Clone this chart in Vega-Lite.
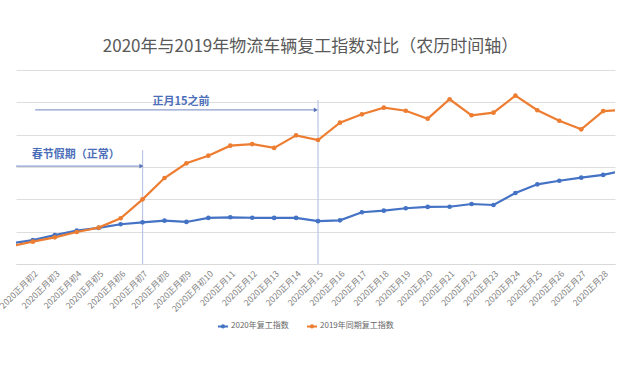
{
  "$schema": "https://vega.github.io/schema/vega-lite/v6.json",
  "autosize": {"type": "none"},
  "width": 599,
  "height": 194,
  "padding": {"left": 16, "top": 70, "right": 26, "bottom": 103},
  "background": "white",
  "config": {"view": {"stroke": null}, "font": "Noto Sans CJK SC"},
  "title": {"text": "2020年与2019年物流车辆复工指数对比（农历时间轴）", "font": "Noto Sans CJK SC", "fontSize": 17, "fontWeight": "normal", "color": "#595959", "anchor": "middle", "offset": 14, "dx": -5},
  "datasets": {
    "series": [
      {"day": 1, "series": "2020年复工指数", "value": 12.7},
      {"day": 2, "series": "2020年复工指数", "value": 14.8},
      {"day": 3, "series": "2020年复工指数", "value": 17.9},
      {"day": 4, "series": "2020年复工指数", "value": 20.6},
      {"day": 5, "series": "2020年复工指数", "value": 22.3},
      {"day": 6, "series": "2020年复工指数", "value": 24.6},
      {"day": 7, "series": "2020年复工指数", "value": 25.8},
      {"day": 8, "series": "2020年复工指数", "value": 26.8},
      {"day": 9, "series": "2020年复工指数", "value": 26.0},
      {"day": 10, "series": "2020年复工指数", "value": 28.5},
      {"day": 11, "series": "2020年复工指数", "value": 28.9},
      {"day": 12, "series": "2020年复工指数", "value": 28.6},
      {"day": 13, "series": "2020年复工指数", "value": 28.5},
      {"day": 14, "series": "2020年复工指数", "value": 28.5},
      {"day": 15, "series": "2020年复工指数", "value": 26.5},
      {"day": 16, "series": "2020年复工指数", "value": 27.0},
      {"day": 17, "series": "2020年复工指数", "value": 32.0},
      {"day": 18, "series": "2020年复工指数", "value": 33.0},
      {"day": 19, "series": "2020年复工指数", "value": 34.5},
      {"day": 20, "series": "2020年复工指数", "value": 35.3},
      {"day": 21, "series": "2020年复工指数", "value": 35.4},
      {"day": 22, "series": "2020年复工指数", "value": 37.1},
      {"day": 23, "series": "2020年复工指数", "value": 36.5},
      {"day": 24, "series": "2020年复工指数", "value": 43.9},
      {"day": 25, "series": "2020年复工指数", "value": 49.3},
      {"day": 26, "series": "2020年复工指数", "value": 51.5},
      {"day": 27, "series": "2020年复工指数", "value": 53.4},
      {"day": 28, "series": "2020年复工指数", "value": 55.1},
      {"day": 29, "series": "2020年复工指数", "value": 57.9},
      {"day": 1, "series": "2019年同期复工指数", "value": 11.1},
      {"day": 2, "series": "2019年同期复工指数", "value": 13.8},
      {"day": 3, "series": "2019年同期复工指数", "value": 16.5},
      {"day": 4, "series": "2019年同期复工指数", "value": 19.8},
      {"day": 5, "series": "2019年同期复工指数", "value": 22.5},
      {"day": 6, "series": "2019年同期复工指数", "value": 28.3},
      {"day": 7, "series": "2019年同期复工指数", "value": 40.0},
      {"day": 8, "series": "2019年同期复工指数", "value": 53.2},
      {"day": 9, "series": "2019年同期复工指数", "value": 62.3},
      {"day": 10, "series": "2019年同期复工指数", "value": 67.0},
      {"day": 11, "series": "2019年同期复工指数", "value": 73.2},
      {"day": 12, "series": "2019年同期复工指数", "value": 74.2},
      {"day": 13, "series": "2019年同期复工指数", "value": 71.8},
      {"day": 14, "series": "2019年同期复工指数", "value": 79.6},
      {"day": 15, "series": "2019年同期复工指数", "value": 76.7},
      {"day": 16, "series": "2019年同期复工指数", "value": 87.4},
      {"day": 17, "series": "2019年同期复工指数", "value": 92.6},
      {"day": 18, "series": "2019年同期复工指数", "value": 96.7},
      {"day": 19, "series": "2019年同期复工指数", "value": 94.8},
      {"day": 20, "series": "2019年同期复工指数", "value": 89.9},
      {"day": 21, "series": "2019年同期复工指数", "value": 101.9},
      {"day": 22, "series": "2019年同期复工指数", "value": 92.0},
      {"day": 23, "series": "2019年同期复工指数", "value": 93.6},
      {"day": 24, "series": "2019年同期复工指数", "value": 104.1},
      {"day": 25, "series": "2019年同期复工指数", "value": 95.1},
      {"day": 26, "series": "2019年同期复工指数", "value": 88.6},
      {"day": 27, "series": "2019年同期复工指数", "value": 83.3},
      {"day": 28, "series": "2019年同期复工指数", "value": 94.6},
      {"day": 29, "series": "2019年同期复工指数", "value": 95.3}
    ],
    "rules": [
      {"day": 7, "value": 70.5, "value2": 0},
      {"day": 15, "value": 101.4, "value2": 0}
    ],
    "arrows": [
      {"day": 1, "day2": 6.95, "value": 60.6},
      {"day": 2.1, "day2": 14.9, "value": 95.3}
    ],
    "heads": [
      {"day": 6.95, "value": 60.6},
      {"day": 14.9, "value": 95.3}
    ],
    "notes": [
      {"day": 1.95, "value": 67.4, "label": "春节假期（正常）"},
      {"day": 7.45, "value": 100.4, "label": "正月15之前"}
    ]
  },
  "encoding": {
    "x": {"field": "day", "type": "quantitative", "title": null,
      "scale": {"domain": [1.23, 28.54], "nice": false, "zero": false},
      "axis": {"values": [2,3,4,5,6,7,8,9,10,11,12,13,14,15,16,17,18,19,20,21,22,23,24,25,26,27,28],
        "tickCount": 30,
        "labelExpr": "datum.value <= 10 ? '2020正月初' + datum.value : '2020正月' + datum.value",
        "labelAngle": -45, "labelFont": "Noto Sans CJK SC", "labelFontSize": 8.5, "labelColor": "#808080",
        "labelOverlap": false, "labelFlush": false, "labelPadding": 5, "ticks": false, "grid": false,
        "domain": true, "domainColor": "#d9d9d9", "domainWidth": 1.2}},
    "y": {"field": "value", "type": "quantitative", "title": null,
      "scale": {"domain": [0, 120], "nice": false},
      "axis": {"values": [0, 20, 40, 60, 80, 100, 120], "tickCount": 7, "labels": false, "ticks": false, "domain": false, "grid": true, "gridColor": "#dedede", "gridWidth": 1}}
  },
  "layer": [
    {
      "data": {"name": "rules"},
      "mark": {"type": "rule", "color": "#bcc6e4", "strokeWidth": 1.2},
      "encoding": {"y2": {"field": "value2"}}
    },
    {
      "data": {"name": "arrows"},
      "mark": {"type": "rule", "color": "#8e9fcf", "strokeWidth": 1.2, "clip": true},
      "encoding": {"x2": {"field": "day2"}}
    },
    {
      "data": {"name": "heads"},
      "mark": {"type": "point", "shape": "triangle-right", "filled": true, "size": 22, "color": "#5b74b8", "opacity": 1},
      "encoding": {}
    },
    {
      "data": {"name": "notes"},
      "mark": {"type": "text", "align": "left", "baseline": "middle", "font": "Noto Sans CJK SC", "fontSize": 11, "fontWeight": "bold", "color": "#4d6fb9"},
      "encoding": {"text": {"field": "label"}}
    },
    {
      "data": {"name": "series"},
      "mark": {"type": "line", "strokeWidth": 2.2, "clip": true},
      "encoding": {
        "color": {"field": "series", "type": "nominal",
          "scale": {"domain": ["2020年复工指数", "2019年同期复工指数"], "range": ["#4472C4", "#ED7D31"]},
          "legend": {"title": null, "orient": "none", "legendX": 201, "legendY": 250, "direction": "horizontal",
            "labelFont": "Noto Sans CJK SC", "labelFontSize": 8, "labelColor": "#666666",
            "symbolType": "M-1,0H1M-0.22,0a0.22,0.22 0 1,0 0.44,0a0.22,0.22 0 1,0 -0.44,0",
            "symbolSize": 100, "symbolStrokeWidth": 2, "labelOffset": 2, "columnPadding": 14,
            "encode": {"symbols": {"update": {"fill": {"scale": "color", "field": "value"}}}}}}
      }
    },
    {
      "data": {"name": "series"},
      "mark": {"type": "point", "filled": true, "size": 22, "opacity": 1, "clip": true},
      "encoding": {
        "color": {"field": "series", "type": "nominal", "legend": null}
      }
    }
  ]
}
